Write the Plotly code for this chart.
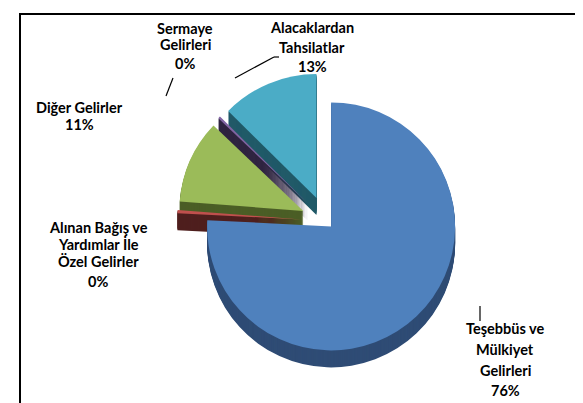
import plotly.graph_objects as go

# ---- data ----
categories = [
    "Teşebbüs ve Mülkiyet Gelirleri",
    "Alınan Bağış ve Yardımlar İle Özel Gelirler",
    "Diğer Gelirler",
    "Sermaye Gelirleri",
    "Alacaklardan Tahsilatlar",
]
label_lines = [
    ["Teşebbüs ve", "Mülkiyet", "Gelirleri"],
    ["Alınan Bağış ve", "Yardımlar İle", "Özel Gelirler"],
    ["Diğer Gelirler"],
    ["Sermaye", "Gelirleri"],
    ["Alacaklardan", "Tahsilatlar"],
]
values = [75.8, 0.4, 10.9, 0.3, 12.6]

# ---- styling ----
pulls = [0.06, 0.2, 0.2, 0.2, 0.2]
top_colors = ["#4F81BD", "#C0504D", "#9BBB59", "#8064A2", "#4BACC6"]
side_colors = ["#2F4C75", "#4F1F1E", "#4B5E26", "#2F2440", "#215A68"]

W, H = 583, 403
radius = 124
cx, cy = 318 / W, 1 - 213 / H
half_h = radius * (1 + max(pulls)) / H
half_w = 0.42
depth = 17

fig = go.Figure()
for k in range(depth, 0, -1):
    s = k / H
    fig.add_trace(go.Pie(
        labels=categories, values=values, sort=False, direction="clockwise",
        rotation=0, pull=pulls, textinfo="none", hoverinfo="skip",
        marker=dict(colors=side_colors, line=dict(width=0)),
        domain=dict(x=[cx - half_w, cx + half_w], y=[cy - half_h - s, cy + half_h - s]),
        showlegend=False,
    ))
fig.add_trace(go.Pie(
    labels=categories, values=values, sort=False, direction="clockwise",
    rotation=0, pull=pulls, textinfo="none", hoverinfo="skip",
    marker=dict(colors=top_colors, line=dict(width=0)),
    domain=dict(x=[cx - half_w, cx + half_w], y=[cy - half_h, cy + half_h]),
    showlegend=False,
))

total = sum(values)
pcts = [round(v / total * 100) for v in values]
# label placement: center x and per-line y, in pixels
label_x = [497, 90, 71, 177, 304]
label_y = [
    [326, 347, 368, 388],
    [225, 242, 260, 279],
    [105, 123],
    [26, 43, 62],
    [25, 45, 65],
]
y_fix = -6
for lines, p, lx, ys in zip(label_lines, pcts, label_x, label_y):
    for t, ly in zip(lines + [f"{p}%"], ys):
        fig.add_annotation(
            x=lx / W, y=1 - (ly + y_fix) / H, xref="paper", yref="paper",
            text=f"<b>{t}</b>", showarrow=False,
            xanchor="center", yanchor="middle", align="center",
            font=dict(family="Lato, Carlito, Arial", size=14.5, color="#000000"),
        )

def seg(x0, y0, x1, y1):
    fig.add_shape(type="line", xref="paper", yref="paper",
                  x0=x0 / W, y0=1 - y0 / H, x1=x1 / W, y1=1 - y1 / H,
                  line=dict(color="#000000", width=1.2))

seg(472, 298, 472, 313)
seg(227, 70, 266, 49)
seg(266, 49, 271, 49)
seg(165, 70, 158, 88)

fig.add_shape(type="rect", xref="paper", yref="paper",
              x0=12 / W, x1=581 / W, y0=-0.05, y1=1 - 6 / H,
              line=dict(color="#000000", width=2), fillcolor="rgba(0,0,0,0)")

fig.update_layout(
    width=W, height=H, margin=dict(l=0, r=0, t=0, b=0),
    paper_bgcolor="#FFFFFF", plot_bgcolor="#FFFFFF",
)
fig.write_html("out.html")
